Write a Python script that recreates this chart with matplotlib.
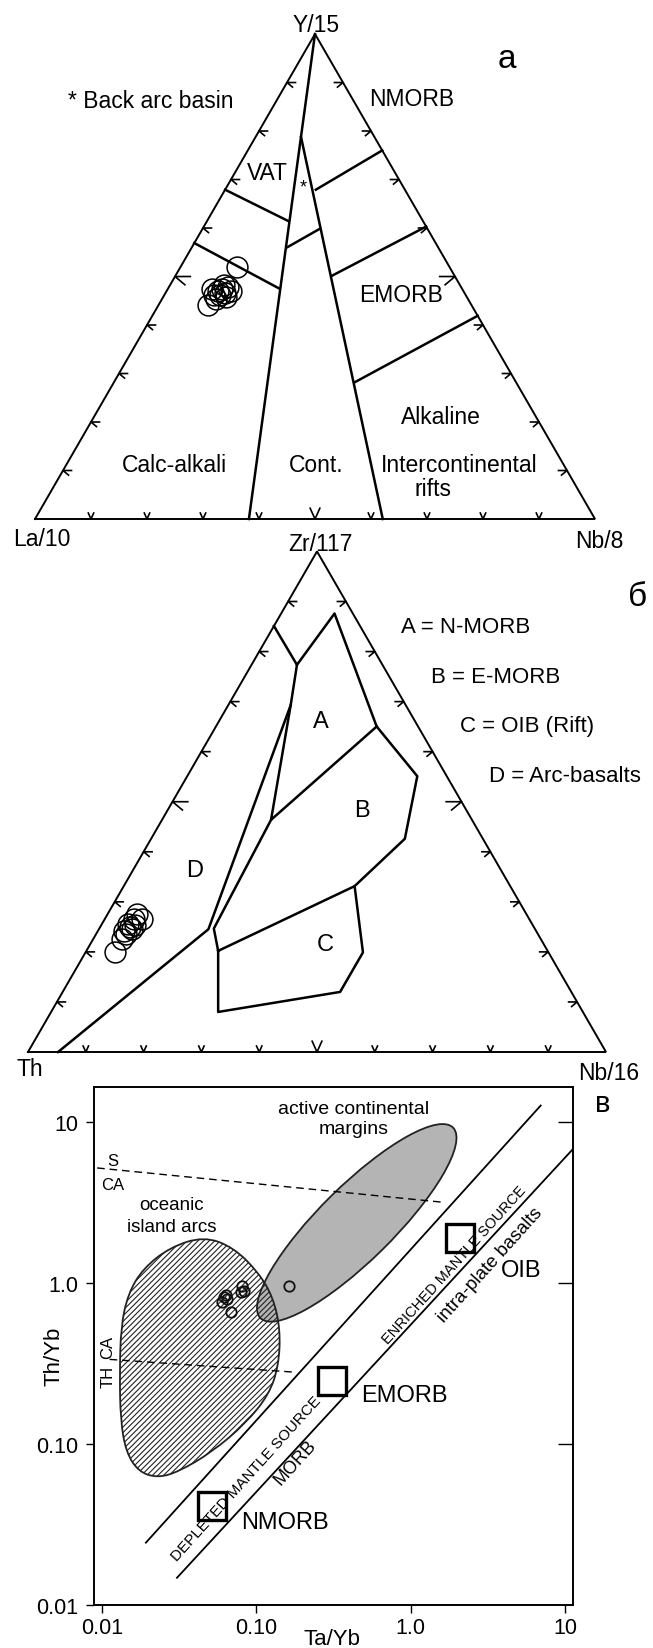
import numpy as np
import matplotlib
matplotlib.use('Agg')
import matplotlib.pyplot as plt
from matplotlib.path import Path
from matplotlib.patches import PathPatch
from matplotlib.transforms import Affine2D
from matplotlib.ticker import NullLocator, FixedLocator, FixedFormatter

plt.rcParams['font.family'] = ['Liberation Sans', 'DejaVu Sans']
plt.rcParams['hatch.linewidth'] = 0.8
plt.rcParams['hatch.color'] = '#333333'

W, H = 653, 1649
S3 = np.sqrt(3) / 2

# ---- (а) La/10 - Y/15 - Nb/8, fractions (La, Y, Nb) ----
a_fields = [
    [(0.0, 1.0, 0.0), (0.618, 0.0, 0.382)],
    [(0.131, 0.788, 0.081), (0.379, 0.0, 0.621)],
    [(0.321, 0.679, 0.0), (0.240, 0.614, 0.146)],
    [(0.431, 0.569, 0.0), (0.326, 0.475, 0.199)],
    [(0.270, 0.560, 0.170), (0.191, 0.599, 0.210)],
    [(0.159, 0.679, 0.162), (0.0, 0.760, 0.240)],
    [(0.218, 0.502, 0.280), (0.0, 0.603, 0.397)],
    [(0.288, 0.282, 0.430), (0.0, 0.419, 0.581)],
]
a_la = [38.0, 47.0, 44.9, 43.8, 42.9, 42.8, 41.6, 45.0, 43.9, 43.0, 41.5, 44.7, 42.1]
a_y = [52.0, 44.1, 46.2, 47.0, 47.4, 46.6, 47.8, 45.4, 46.2, 45.8, 47.0, 47.4, 48.2]
a_nb = [10.0, 8.8, 8.9, 9.2, 9.7, 10.6, 10.5, 9.6, 9.9, 11.2, 11.5, 7.9, 9.6]

# ---- (б) Th - Zr/117 - Nb/16, fractions (Th, Zr, Nb) ----
P1 = (0.149, 0.851, 0.0)
P2 = (0.148, 0.7735, 0.0786)
P3 = (0.0317, 0.876, 0.0923)
P4 = (0.0716, 0.650, 0.278)
P5 = (0.199, 0.693, 0.108)
P6 = (0.3476, 0.4638, 0.1886)
P7 = (0.5653, 0.2452, 0.1895)
P8 = (0.948, 0.0, 0.052)
P9 = (0.5552, 0.2466, 0.1982)
P10 = (0.570, 0.202, 0.228)
P11 = (0.051, 0.551, 0.398)
P12 = (0.135, 0.426, 0.439)
P13 = (0.269, 0.331, 0.399)
P14 = (0.321, 0.199, 0.480)
P15 = (0.400, 0.120, 0.480)
P16 = (0.631, 0.080, 0.289)
b_fields = [
    [P1, P2, P5, P7, P8],
    [P2, P3, P4],
    [P5, P6, P4],
    [P4, P11, P12, P13],
    [P6, P9, P10],
    [P10, P13, P14, P15, P16, P10],
]
b_th = [67.0, 75.0, 69.9, 71.3, 68.4, 67.4, 72.5, 69.7, 70.2, 71.3, 68.8]
b_zr = [26.6, 20.0, 25.0, 23.6, 26.6, 27.6, 22.6, 24.6, 25.6, 24.2, 25.4]
b_nb = [6.4, 5.1, 5.2, 5.2, 5.1, 5.1, 5.0, 5.7, 4.5, 4.5, 5.8]

# ---- (в) Th/Yb vs Ta/Yb ----
arc_ta = [0.0457, 0.0708, 0.1032, 0.1285, 0.1430, 0.1394, 0.1207, 0.0855, 0.0517,
          0.0313, 0.0229, 0.01726, 0.0143, 0.01318, 0.01302, 0.01327, 0.01475,
          0.01837, 0.0276]
arc_th = [1.951, 1.672, 1.167, 0.814, 0.5127, 0.3066, 0.2032, 0.1348, 0.0893,
          0.0673, 0.0617, 0.0673, 0.0893, 0.1418, 0.2767, 0.5396, 0.857, 1.228, 1.672]
acm_center = (0.447, 2.37)      # active continental margins
acm_axes = (0.86, 0.235)        # semi-axes, decades
acm_angle = 43.3
upper_ta, upper_th = [0.01925, 6.95], [0.0244, 12.7]
lower_ta, lower_th = [0.0306, 11.7], [0.01476, 7.1]
sca_ta, sca_th = [0.0093, 1.63], [5.2, 3.18]
thca_ta, thca_th = [0.0112, 0.175], [0.336, 0.280]
ref_names = ['NMORB', 'EMORB', 'OIB']
ref_ta = [0.0515, 0.308, 2.09]
ref_th = [0.041, 0.246, 1.92]
smp_ta = [0.163, 0.0617, 0.0649, 0.0601, 0.0681, 0.0812, 0.0791, 0.0832, 0.0634]
smp_th = [0.966, 0.818, 0.799, 0.769, 0.661, 0.966, 0.879, 0.900, 0.840]

fig = plt.figure(figsize=(W / 100, H / 100), dpi=100)


def px(x, y):
    return x / W, 1 - y / H


def label(x, y, s, size=16.5, **kw):
    kw.setdefault('ha', 'center')
    kw.setdefault('va', 'center')
    fig.text(*px(x, y), s, fontsize=size, **kw)


def txy(comp):
    a, b, c = np.asarray(comp, float).T
    s = a + b + c
    b, c = b / s, c / s
    return c + b / 2, b * S3


def tern_axes(top, bottom, x0, base, side):
    ax = fig.add_axes([0, 1 - bottom / H, 1, (bottom - top) / H])
    ax.set_xlim(-x0 / side, (W - x0) / side)
    ax.set_ylim((base - bottom) / side, (base - top) / side)
    ax.set_axis_off()
    ax.plot([0, 1, 0.5, 0], [0, 0, S3, 0], 'k-', lw=1.4, solid_joinstyle='miter')
    # arrow ticks every 10 %
    u = 1 / side
    for i in range(1, 10):
        t = i / 10
        k = 1.8 if i == 5 else 1.0
        x, y = txy((1 - t, t, 0))
        ax.plot([x + 8.5 * u * k, x, x + 5.5 * u * k], [y, y, y - 4.6 * u * k], 'k-', lw=1.2)
        x, y = txy((0, t, 1 - t))
        ax.plot([x - 8.5 * u * k, x, x - 5.5 * u * k], [y, y, y - 4.6 * u * k], 'k-', lw=1.2)
        x, y = txy((1 - t, 0, t))
        ax.plot([x - 2.7 * u * k, x, x + 2.7 * u * k], [y + 6 * u * k, y, y + 6 * u * k], 'k-', lw=1.2)
    return ax


# ---------------- panel а ----------------
ax1 = tern_axes(0, 550, 35, 520, 560)
for seg in a_fields:
    ax1.plot(*txy(seg), 'k-', lw=1.8)
ax1.plot(*txy(np.column_stack([a_la, a_y, a_nb])), 'o', ms=15, mfc='none', mec='k', mew=1.1)

label(316, 26, 'Y/15')
label(507, 60, 'а', 24)
label(68, 102, '* Back arc basin', ha='left')
label(412, 100, 'NMORB')
label(267, 173, 'VAT')
label(303, 188, '*', 13)
label(401, 296, 'EMORB')
label(441, 417, 'Alkaline')
label(174, 465, 'Calc-alkali')
label(316, 465, 'Cont.')
label(459, 465, 'Intercontinental')
label(433, 489, 'rifts')
label(42, 540, 'La/10')
label(599, 542, 'Nb/8')

# ---------------- panel б ----------------
ax2 = tern_axes(550, 1078, 28, 1053, 578)
for seg in b_fields:
    ax2.plot(*txy(seg), 'k-', lw=1.8)
ax2.plot(*txy(np.column_stack([b_th, b_zr, b_nb])), 'o', ms=15, mfc='none', mec='k', mew=1.1)

label(320, 545, 'Zr/117')
label(638, 597, 'б', 24)
label(401, 628, 'A = N-MORB', 16, ha='left')
label(431, 678, 'B = E-MORB', 16, ha='left')
label(460, 727, 'C = OIB (Rift)', 16, ha='left')
label(489, 777, 'D = Arc-basalts', 16, ha='left')
label(321, 722, 'A', 17)
label(362, 811, 'B', 17)
label(325, 945, 'C', 17)
label(195, 871, 'D', 17)
label(30, 1070, 'Th')
label(609, 1073, 'Nb/16')

# ---------------- panel в ----------------
ax3 = fig.add_axes([93.5 / W, 1 - 1606 / H, 479 / W, 518 / H])
ax3.set_xscale('log')
ax3.set_yscale('log')
ax3.set_xlim(10 ** -2.055, 10 ** 1.048)
ax3.set_ylim(0.01, 10 ** 1.219)

# active continental margins: ellipse built in log space
lx0, ly0 = np.log10(acm_center)
circ = Path.unit_circle()
tr = Affine2D().scale(*acm_axes).rotate_deg(acm_angle).translate(lx0, ly0)
ell = tr.transform_path(circ)
ax3.add_patch(PathPatch(Path(10 ** ell.vertices, ell.codes), fc='#b4b4b4', ec='#222222',
                        lw=1.3, zorder=1))

# oceanic island arcs: smooth closed outline through the outline points
lv = np.log10(np.column_stack([arc_ta, arc_th]))
n = len(lv)
mids = (lv + np.roll(lv, -1, axis=0)) / 2
verts = [mids[-1]]
codes = [Path.MOVETO]
for i in range(n):
    verts += [lv[i], mids[i]]
    codes += [Path.CURVE3, Path.CURVE3]
ax3.add_patch(PathPatch(Path(10 ** np.array(verts), codes), fc='none', ec='#222222',
                        hatch='//////', lw=1.3, zorder=2))

ax3.plot(upper_ta, upper_th, 'k-', lw=1.3, zorder=3)
ax3.plot(lower_ta, lower_th, 'k-', lw=1.3, zorder=3)
ax3.plot(sca_ta, sca_th, 'k-', lw=1.0, ls=(0, (5.5, 3.5)), zorder=3)
ax3.plot(thca_ta, thca_th, 'k-', lw=1.0, ls=(0, (5.5, 3.5)), zorder=3)
ax3.plot(ref_ta, ref_th, 's', ms=20, mfc='none', mec='k', mew=2.4, zorder=4)
ax3.plot(smp_ta, smp_th, 'o', ms=7.5, mfc='none', mec='#111111', mew=1.3, zorder=5)

for sp in ax3.spines.values():
    sp.set_linewidth(1.4)
ax3.xaxis.set_major_locator(FixedLocator([0.01, 0.1, 1, 10]))
ax3.xaxis.set_major_formatter(FixedFormatter(['0.01', '0.10', '1.0', '10']))
ax3.yaxis.set_major_locator(FixedLocator([0.01, 0.1, 1, 10]))
ax3.yaxis.set_major_formatter(FixedFormatter(['0.01', '0.10', '1.0', '10']))
ax3.xaxis.set_minor_locator(NullLocator())
ax3.yaxis.set_minor_locator(NullLocator())
ax3.tick_params(axis='both', direction='out', length=6, width=1.0, labelsize=15.5, pad=3)
ax3.tick_params(axis='y', pad=5)

# inward ticks on the right-hand spine
axr = ax3.twinx()
axr.set_yscale('log')
axr.set_ylim(ax3.get_ylim())
axr.yaxis.set_major_locator(FixedLocator([0.1, 1, 10]))
axr.yaxis.set_minor_locator(NullLocator())
axr.tick_params(axis='y', direction='in', length=11, width=1.0, labelright=False)
for sp in axr.spines.values():
    sp.set_visible(False)

label(354, 1109, 'active continental', 14)
label(354, 1130, 'margins', 14)
label(172, 1206, 'oceanic', 13.5)
label(172, 1227, 'island arcs', 13.5)
label(113, 1161, 'S', 12)
label(113, 1186, 'CA', 12)
label(108, 1377, 'TH', 12, rotation=90)
label(108, 1347, 'CA', 12, rotation=90)
label(454, 1265, 'ENRICHED MANTLE SOURCE', 10.5, rotation=48, rotation_mode='anchor')
label(490, 1265, 'intra-plate basalts', 13.5, rotation=48, rotation_mode='anchor')
label(246, 1479, 'DEPLETED MANTLE SOURCE', 11, rotation=48, rotation_mode='anchor')
label(295, 1463, 'MORB', 13, rotation=48, rotation_mode='anchor')
label(501, 1271, 'OIB', 17, ha='left')
label(361, 1396, 'EMORB', 17, ha='left')
label(241, 1523, 'NMORB', 17, ha='left')
label(603, 1104, 'в', 21)
label(54, 1356, 'Th/Yb', 16, rotation=90)
label(332, 1640, 'Ta/Yb', 16)

fig.savefig('out.png', dpi=100)
